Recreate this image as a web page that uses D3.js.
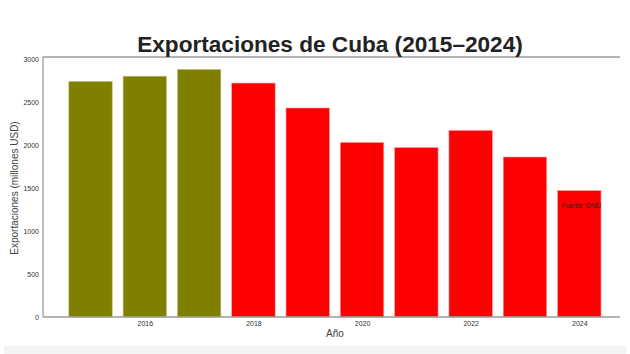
<!DOCTYPE html>
<html><head><meta charset="utf-8">
<script src="https://cdn.jsdelivr.net/npm/d3@7"></script>
<style>body{margin:0;background:#fff}svg{display:block}</style>
</head><body>
<script>
const years = [2015,2016,2017,2018,2019,2020,2021,2022,2023,2024];
const exportsUSD = [2740,2800,2880,2720,2430,2030,1970,2170,1860,1470];
const barColors = ["#808000","#808000","#808000","#ff0000","#ff0000","#ff0000","#ff0000","#ff0000","#ff0000","#ff0000"];
const yTicks = [0,500,1000,1500,2000,2500,3000];
const xTicks = [2016,2018,2020,2022,2024];
const title = "Exportaciones de Cuba (2015–2024)";
const note = "Fuente: ONEI";

const W=630,H=354, L=43,R=620,T=57,B=317;
const svg=d3.select("body").append("svg").attr("width",W).attr("height",H);
svg.append("rect").attr("x",4).attr("y",346).attr("width",622).attr("height",8).attr("fill","#f4f4f4");

const x=d3.scaleLinear().domain([2014.125,2024.75]).range([L,R]);
const y=d3.scaleLinear().domain([0,3023]).range([B,T]);
const bw = x(2015.8)-x(2015);

svg.append("g").selectAll("rect").data(years).join("rect")
  .attr("x",d=>x(d)-bw/2).attr("width",bw)
  .attr("y",(d,i)=>y(exportsUSD[i])).attr("height",(d,i)=>B-y(exportsUSD[i]))
  .attr("fill",(d,i)=>barColors[i])
  .attr("stroke",(d,i)=>i<3?"#c8c890":"#ff9a9a").attr("stroke-width",0.6);

const font="Liberation Sans, Arial, sans-serif";
const ya=svg.append("g").attr("transform",`translate(${L},0)`)
  .call(d3.axisLeft(y).tickValues(yTicks).tickSize(0).tickPadding(4).tickFormat(d3.format("d")));
ya.select(".domain").remove();
ya.selectAll("text").attr("font-size",7).attr("font-family",font).attr("fill","#333");
const xa=svg.append("g").attr("transform",`translate(0,${B})`)
  .call(d3.axisBottom(x).tickValues(xTicks).tickSize(0).tickPadding(4).tickFormat(d3.format("d")));
xa.select(".domain").remove();
xa.selectAll("text").attr("font-size",7).attr("font-family",font).attr("fill","#333");

const sp="#9a9a9a";
svg.append("line").attr("x1",L).attr("x2",L).attr("y1",T).attr("y2",B).attr("stroke",sp).attr("stroke-width",1.3);
svg.append("line").attr("x1",L).attr("x2",R).attr("y1",B).attr("y2",B).attr("stroke",sp).attr("stroke-width",1.3);
svg.append("line").attr("x1",L).attr("x2",R).attr("y1",T).attr("y2",T).attr("stroke",sp).attr("stroke-width",1.6);

svg.append("text").attr("x",330).attr("y",52).attr("text-anchor","middle")
  .attr("font-family",font).attr("font-weight","bold").attr("font-size",22.6).attr("fill","#222").text(title);
svg.append("text").attr("transform",`translate(17.5,${(T+B)/2+1}) rotate(-90)`).attr("text-anchor","middle")
  .attr("font-family",font).attr("font-size",10).attr("fill","#444").text("Exportaciones (millones USD)");
svg.append("text").attr("x",335).attr("y",337).attr("text-anchor","middle")
  .attr("font-family",font).attr("font-size",10).attr("fill","#444").text("Año");
svg.append("text").attr("x",x(2024)-17.5).attr("y",y(1270)).attr("font-family",font)
  .attr("font-size",6.5).attr("fill","#222").text(note);
</script>
</body></html>
